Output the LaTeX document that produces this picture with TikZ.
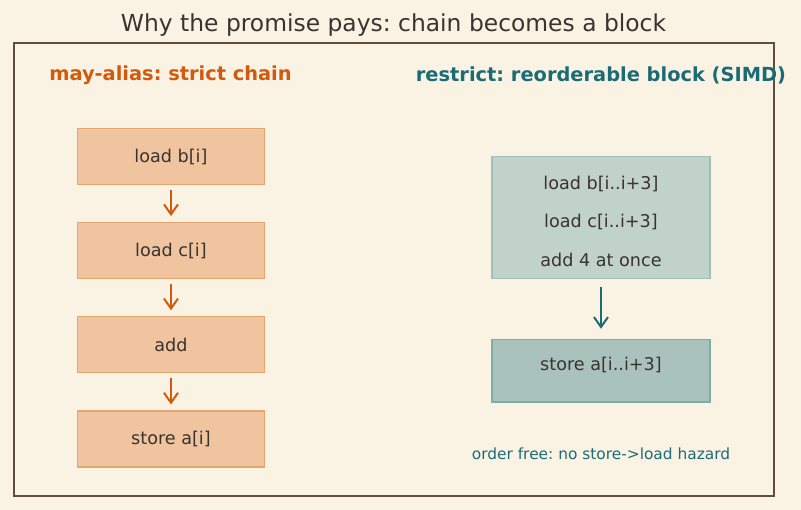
\documentclass[tikz,border=0pt]{standalone}
\usepackage{fontspec}
\setmainfont{DejaVu Sans}
\usetikzlibrary{arrows.meta,positioning}
\frenchspacing

\definecolor{paper}{HTML}{FAF3E3}
\definecolor{ink}{HTML}{3A3330}
\definecolor{framecol}{HTML}{5C4F40}
\definecolor{rust}{HTML}{D35A0C}
\definecolor{peach}{HTML}{EFC49E}
\definecolor{peachedge}{HTML}{E6A56C}
\definecolor{teal}{HTML}{1B6B77}
\definecolor{sage}{HTML}{C1D2C9}
\definecolor{sageedge}{HTML}{9DC0B9}
\definecolor{slate}{HTML}{A9C2BC}
\definecolor{slateedge}{HTML}{7DADA9}

\tikzset{
  chainbox/.style={rectangle, draw=peachedge, fill=peach, line width=1.2pt,
                   minimum width=187pt, minimum height=56pt, inner sep=0pt,
                   text=ink, font=\fontsize{17.6}{20}\selectfont},
  blockbox/.style={rectangle, draw=sageedge, fill=sage, line width=1.6pt,
                   minimum width=217.5pt, minimum height=122pt, inner sep=0pt},
  storebox/.style={rectangle, draw=slateedge, fill=slate, line width=1.6pt,
                   minimum width=217.5pt, minimum height=62.5pt, inner sep=0pt,
                   text height=12pt, text depth=13pt,
                   text=ink, font=\fontsize{17.6}{20}\selectfont},
  lane/.style={text=ink, font=\fontsize{17.6}{20}\selectfont},
  head/.style={font=\fontsize{19.4}{22}\selectfont\bfseries},
  flow/.style={-{Straight Barb[length=10pt,width=14pt]}, line width=2pt}
}

\begin{document}
\begin{tikzpicture}[x=1pt, y=-1pt,
            node distance=37pt]

        % canvas
        \useasboundingbox[fill=paper] (0,0) rectangle (801,510);
        \draw[framecol, line width=1.5pt] (14,43) rectangle (774,496);

        \node[text=ink, font=\fontsize{23.4}{26}\selectfont] (title) at (393.5,25) {Why the promise pays: chain becomes a block};

        % may-alias side
        \node[head, text=rust] (lhead) at (170.5,75) {may-alias: strict chain};

        \node[chainbox]            (ldb) at (171,156.5) {load b[i]};
        \node[chainbox] (ldc) [below=of ldb] {load c[i]};
        \node[chainbox] (add) [below=of ldc] {add};
        \node[chainbox] (sta) [below=of add] {store a[i]};

        \path[flow, rust, shorten <=5pt, shorten >=6pt]
              (ldb) edge (ldc)
              (ldc) edge (add)
              (add) edge (sta);

        % restrict side
        \node[head, text=teal] (rhead) at (601,75.5) {restrict: reorderable block (SIMD)};

        \node[blockbox] (blk) at (601,217.5) {};
        \node[lane] (vldb) at (601,184) {load b[i..i+3]};
        \node[lane] (vldc) at (601,222) {load c[i..i+3]};
        \node[lane] (vadd) at (601,259.5) {add 4 at once};

        \node[storebox] (vsta) [below=59.5pt of blk] {store a[i..i+3]};

        \path[flow, teal, shorten <=8pt, shorten >=10pt]
              (blk) edge (vsta);

        \node[text=teal, font=\fontsize{15.4}{18}\selectfont] (note) at (601,454) {order free: no store->load hazard};

    \end{tikzpicture}
\end{document}
